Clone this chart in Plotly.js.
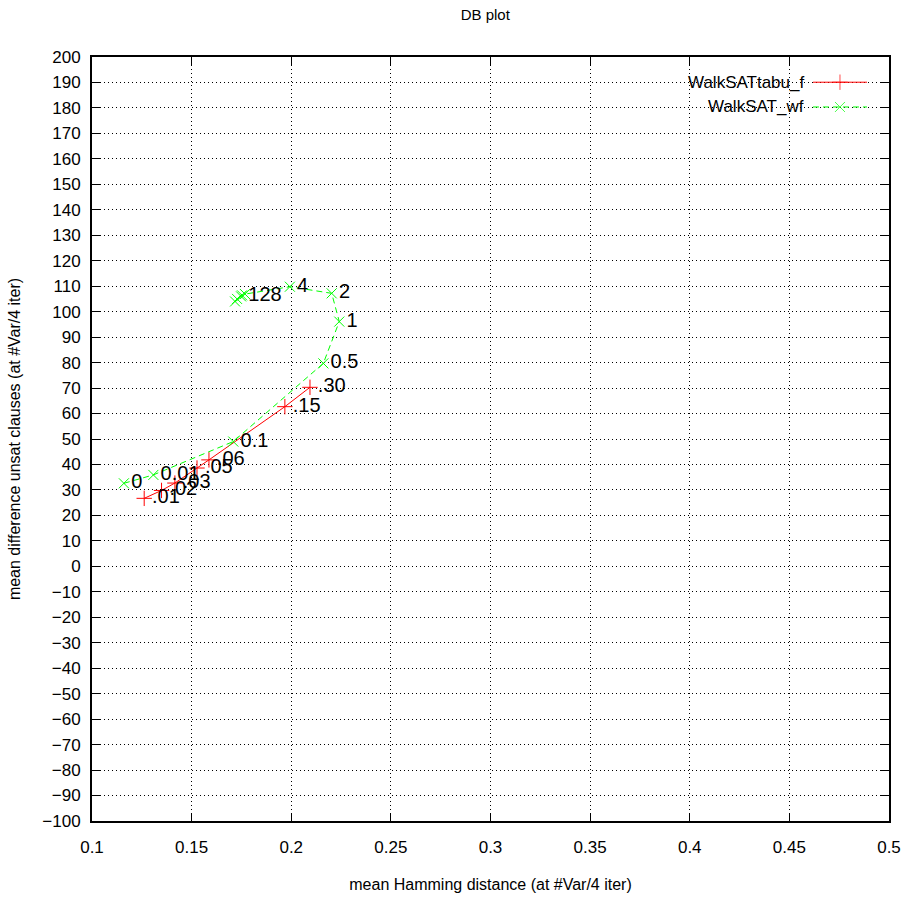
<!DOCTYPE html>
<html>
<head>
<meta charset="utf-8">
<script src="https://cdn.plot.ly/plotly-3.0.1.min.js"></script>
<style>html,body{margin:0;padding:0;background:#fff;}#chart{width:907px;height:902px;}</style>
</head>
<body>
<div id="chart"></div>
<script>
// WalkSATtabu_f series
const tabuX = [0.1262, 0.1349, 0.1416, 0.1527, 0.1587, 0.1968, 0.2094];
const tabuY = [26.7, 29.8, 32.7, 38.6, 41.8, 62.7, 70.3];
const tabuLabels = [".01", ".02", ".03", ".05", ".06", ".15", ".30"];

// WalkSAT_wf series
const wfX = [0.1160, 0.1308, 0.1709, 0.2161, 0.2241, 0.2203, 0.1993, 0.1768, 0.1753, 0.1728, 0.1718, 0.1748];
const wfY = [32.6, 35.9, 49.0, 79.7, 96.1, 107.2, 109.8, 106.9, 106.4, 105.0, 104.0, 106.0];
const wfLabels = ["0", "0.01", "0.1", "0.5", "1", "2", "4", "", "", "", "", "128"];

const xTicks = [0.1, 0.15, 0.2, 0.25, 0.3, 0.35, 0.4, 0.45, 0.5];
const xTickText = ["0.1", "0.15", "0.2", "0.25", "0.3", "0.35", "0.4", "0.45", "0.5"];
const yTicks = [];
for (let v = -100; v <= 200; v += 10) yTicks.push(v);

const seriesNames = ["WalkSATtabu_f", "WalkSAT_wf"];
const RED = "#ff0000", GREEN = "#00ff00";
const FONT = "Liberation Sans, Arial, sans-serif";

const traces = [
  {
    x: tabuX, y: tabuY, text: tabuLabels, type: "scatter", mode: "lines+markers+text",
    line: {color: RED, width: 1},
    marker: {symbol: "cross-thin", size: 11, line: {color: RED, width: 1}, color: RED},
    textposition: "middle right", textfont: {family: FONT, size: 20, color: "#000"},
    showlegend: false, cliponaxis: false
  },
  {
    x: wfX, y: wfY, text: wfLabels, type: "scatter", mode: "lines+markers+text",
    line: {color: GREEN, width: 1, dash: "6px,4px"},
    marker: {symbol: "x-thin", size: 10, line: {color: GREEN, width: 1}, color: GREEN},
    textposition: "middle right", textfont: {family: FONT, size: 20, color: "#000"},
    showlegend: false, cliponaxis: false
  },
  // legend samples on an overlay axis in [0,1]
  {
    x: [0.9046, 0.9385, 0.9724], y: [0.967, 0.967, 0.967], xaxis: "x2", yaxis: "y2",
    type: "scatter", mode: "lines+markers", line: {color: RED, width: 1},
    marker: {symbol: "cross-thin", size: [0, 11, 0], line: {color: RED, width: 1}},
    showlegend: false, hoverinfo: "skip"
  },
  {
    x: [0.9046, 0.9385, 0.9724], y: [0.9346, 0.9346, 0.9346], xaxis: "x2", yaxis: "y2",
    type: "scatter", mode: "lines+markers", line: {color: GREEN, width: 1, dash: "6px,4px"},
    marker: {symbol: "x-thin", size: [0, 10, 0], line: {color: GREEN, width: 1}},
    showlegend: false, hoverinfo: "skip"
  }
];

const axisCommon = {
  showline: true, linecolor: "#000", linewidth: 2, mirror: "ticks",
  ticks: "inside", ticklen: 8, tickcolor: "#000", tickwidth: 1,
  showgrid: true, gridcolor: "#000", gridwidth: 1, griddash: "1px,3px",
  zeroline: false, tickfont: {family: FONT, size: 17, color: "#000"}
};

const layout = {
  width: 907, height: 902,
  margin: {l: 92, r: 18, t: 57, b: 81},
  paper_bgcolor: "#fff", plot_bgcolor: "#fff",
  title: {text: "DB plot", x: 0.535, xanchor: "center", y: 0.99, yanchor: "top",
          font: {family: FONT, size: 15, color: "#000"}},
  xaxis: Object.assign({}, axisCommon, {
    range: [0.1, 0.5], tickvals: xTicks, ticktext: xTickText, ticklabelstandoff: 10,
    title: {text: "mean Hamming distance (at #Var/4 iter)", standoff: 22,
            font: {family: FONT, size: 16, color: "#000"}}
  }),
  yaxis: Object.assign({}, axisCommon, {
    range: [-100, 200], tickvals: yTicks, ticklabelstandoff: 6,
    title: {text: "mean difference unsat clauses (at #Var/4 iter)", standoff: 18,
            font: {family: FONT, size: 16, color: "#000"}}
  }),
  xaxis2: {overlaying: "x", range: [0, 1], visible: false, fixedrange: true},
  yaxis2: {overlaying: "y", range: [0, 1], visible: false, fixedrange: true},
  annotations: [
    {xref: "paper", yref: "paper", x: 0.896, y: 0.967, xanchor: "right", yanchor: "middle",
     text: seriesNames[0], showarrow: false, font: {family: FONT, size: 17, color: "#000"}},
    {xref: "paper", yref: "paper", x: 0.896, y: 0.9346, xanchor: "right", yanchor: "middle",
     text: seriesNames[1], showarrow: false, font: {family: FONT, size: 17, color: "#000"}}
  ]
};

Plotly.newPlot("chart", traces, layout, {displayModeBar: false, staticPlot: true});
</script>
</body>
</html>
